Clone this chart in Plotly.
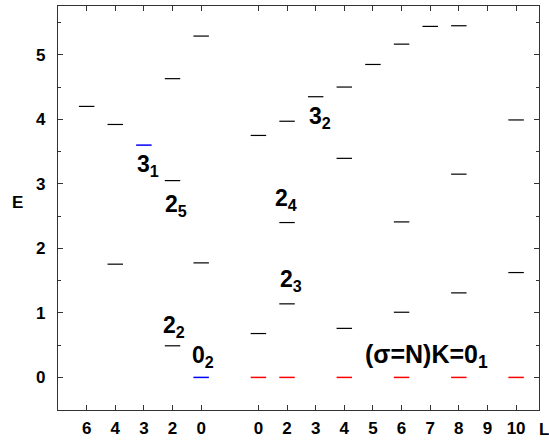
import plotly.graph_objects as go

# ---- data ----
left_labels = ["6", "4", "3", "2", "0"]
right_labels = ["0", "2", "3", "4", "5", "6", "7", "8", "9", "10"]

# left band
left_black_L = [6, 4, 4, 2, 2, 2, 0, 0]
left_black_E = [4.20, 3.92, 1.755, 4.63, 3.05, 0.49, 5.29, 1.775]
left_blue_L = [3, 0]
left_blue_E = [3.60, 0.0]

# right band (K=0)
right_black_L = [0, 0, 2, 2, 2, 3, 4, 4, 4, 5, 6, 6, 6, 7, 8, 8, 8, 10, 10]
right_black_E = [3.75, 0.68, 3.97, 2.40, 1.14, 4.35, 4.50, 3.395, 0.76, 4.85,
                 5.165, 2.41, 1.01, 5.44, 5.45, 3.15, 1.31, 3.99, 1.625]
right_red_L = [0, 2, 4, 6, 8, 10]
right_red_E = [0.0, 0.0, 0.0, 0.0, 0.0, 0.0]

y_ticks = [0, 1, 2, 3, 4, 5]

# ---- positions on the axis ----
left_pos = {int(l): i + 1 for i, l in enumerate(left_labels)}
right_pos = {int(l): i + 7 for i, l in enumerate(right_labels)}
tickvals = list(left_pos.values()) + list(right_pos.values())
ticktext = left_labels + right_labels

HALF = 0.27


def segs(Ls, Es, posmap):
    xs, ys = [], []
    for L, E in zip(Ls, Es):
        p = posmap[L]
        xs += [p - HALF, p + HALF, None]
        ys += [E, E, None]
    return xs, ys


fig = go.Figure()
for Ls, Es, pm, col, w in [
    (left_black_L, left_black_E, left_pos, "black", 1.2),
    (right_black_L, right_black_E, right_pos, "black", 1.2),
    (left_blue_L, left_blue_E, left_pos, "blue", 1.5),
    (right_red_L, right_red_E, right_pos, "red", 1.5),
]:
    xs, ys = segs(Ls, Es, pm)
    fig.add_trace(go.Scatter(x=xs, y=ys, mode="lines",
                             line=dict(color=col, width=w),
                             showlegend=False, hoverinfo="skip"))

FONT = "Liberation Sans, Arial, sans-serif"
labels = [
    ("3<sub>1</sub>", 2.705, 3.287, "left", 23),
    ("2<sub>5</sub>", 3.68, 2.67, "left", 23),
    ("3<sub>2</sub>", 8.71, 4.035, "left", 23),
    ("2<sub>4</sub>", 7.52, 2.76, "left", 23),
    ("2<sub>3</sub>", 7.70, 1.50, "left", 23),
    ("2<sub>2</sub>", 3.61, 0.79, "left", 23),
    ("0<sub>2</sub>", 4.62, 0.33, "left", 23),
    ("(σ=N)K=0<sub>1</sub>", 12.86, 0.33, "center", 25),
]
for txt, x, y, anc, sz in labels:
    fig.add_annotation(x=x, y=y, xref="x", yref="y", text="<b>" + txt + "</b>",
                       showarrow=False, xanchor=anc, yanchor="middle",
                       font=dict(family=FONT, size=sz, color="black"))

fig.add_annotation(x=-0.085, y=0.514, xref="paper", yref="paper", text="<b>E</b>",
                   showarrow=False, xanchor="center", yanchor="middle",
                   font=dict(family=FONT, size=17, color="black"))
fig.add_annotation(x=1.0104, y=0, xref="paper", yref="paper", text="<b>L</b>",
                   showarrow=False, xanchor="center", yanchor="top", yshift=-8,
                   font=dict(family=FONT, size=17, color="black"))

axis_common = dict(showgrid=False, zeroline=False, showline=True, linecolor="#333",
                   linewidth=1.3, mirror="allticks", ticks="inside", ticklen=5,
                   tickcolor="#333", tickwidth=1,
                   tickfont=dict(family=FONT, size=17, color="black"))
fig.update_layout(
    width=549, height=443,
    margin=dict(l=58, r=10, t=5, b=32),
    paper_bgcolor="white", plot_bgcolor="white",
    xaxis=dict(range=[0, 16.8], tickmode="array", tickvals=tickvals,
               ticktext=["<b>%s</b>" % t for t in ticktext],
               ticklabelstandoff=2, **axis_common),
    yaxis=dict(range=[-0.505, 5.756], tickmode="array", tickvals=y_ticks,
               ticktext=["<b>%d</b>" % t for t in y_ticks],
               ticklabelstandoff=8,
               minor=dict(tickmode="array", tickvals=[-0.5, 0.5, 1.5, 2.5, 3.5, 4.5, 5.5],
                          ticks="inside", ticklen=3, tickcolor="#333"),
               **axis_common),
)
fig.write_html("out.html")
